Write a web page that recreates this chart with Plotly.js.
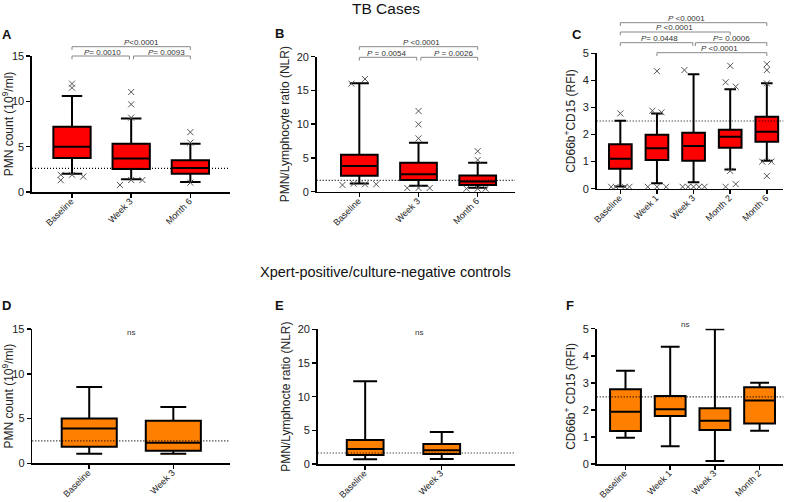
<!DOCTYPE html>
<html><head><meta charset="utf-8">
<script src="https://cdn.plot.ly/plotly-3.0.1.min.js"></script>
<style>html,body{margin:0;padding:0;background:#fff}#chart{width:795px;height:502px}</style>
</head><body><div id="chart"></div>
<script>
// ---------- DATA ----------
const catsA = ['Baseline','Week 3','Month 6'];
const catsB = ['Baseline','Week 3','Month 6'];
const catsC = ['Baseline','Week 1','Week 3','Month 2','Month 6'];
const catsD = ['Baseline','Week 3'];
const catsE = ['Baseline','Week 3'];
const catsF = ['Baseline','Week 1','Week 3','Month 2'];

// Panel A: PMN count, TB cases
const A_q1  = [3.75, 2.55, 2.0];
const A_med = [5.0, 3.7, 2.65];
const A_q3  = [7.2, 5.33, 3.5];
const A_lo  = [2.0, 1.4, 1.1];
const A_hi  = [10.6, 8.1, 5.33];
const A_outCat  = [0,0,0,0,0,0, 1,1,1,1,1,1, 2,2,2];
const A_outVal  = [11.95,11.5,1.9,1.3,1.9,1.7, 11.03,9.67,8.2,0.77,1.32,1.32, 6.6,5.44,1.03];
const A_outSlot = [0,0,-1,-1,0,1, 0,0,0,-1,0,1, 0,0,0];
const A_thr = 2.6;

// Panel B: NLR, TB cases
const B_q1  = [2.37, 1.73, 1.0];
const B_med = [3.8, 2.6, 1.5];
const B_q3  = [5.48, 4.3, 2.4];
const B_lo  = [1.23, 0.9, 0.6];
const B_hi  = [16.05, 7.26, 4.3];
const B_outCat  = [0,0,0,0,0,0, 1,1,1,1,1,1, 2,2,2,2,2];
const B_outVal  = [16.7,16.0,0.99,1.2,1.1,1.1, 11.95,9.98,7.9,0.55,0.55,0.55, 6.0,4.7,0.45,0.45,0.45];
const B_outSlot = [0.5,-0.7,-1.5,-0.5,0.5,1.5, 0,0,0,-1,0,1, 0,0,-1,0,0.7];
const B_thr = 1.68;

// Panel C: CD66b+CD15 RFI, TB cases
const C_q1  = [0.74, 1.06, 1.03, 1.51, 1.73];
const C_med = [1.11, 1.49, 1.58, 1.92, 2.1];
const C_q3  = [1.64, 1.99, 2.07, 2.18, 2.66];
const C_lo  = [0.08, 0.2, 0.24, 0.71, 1.03];
const C_hi  = [2.51, 2.78, 4.23, 3.67, 3.89];
const C_outCat  = [0,0,0,0,0, 1,1,1,1,1,1, 2,2,2,2,2,2, 3,3,3,3,3,3, 4,4,4,4,4,4];
const C_outVal  = [2.78,0.07,0.07,0.07,0.07, 4.34,2.88,2.82,0.07,0.07,0.07, 4.38,0.07,0.07,0.07,0.07,0.07,
                   4.54,3.93,3.77,0.66,0.07,0.17, 4.6,4.38,3.89,1.0,1.0,0.47];
const C_outSlot = [0,-2,-1,1,2, 0,-1,1,-2,0,2, -2,-2.4,-1.2,0,1.2,2.4, 0,-1,1.2,0,-1,1.2, 0,0,0,-1,1,0];
const C_thr = 2.5;

// Panel D: PMN count, controls
const D_q1  = [1.86, 1.41];
const D_med = [3.9, 2.3];
const D_q3  = [5.0, 4.76];
const D_lo  = [1.08, 1.08];
const D_hi  = [8.52, 6.29];
const D_thr = 2.5;

// Panel E: NLR, controls
const E_q1  = [1.34, 1.49];
const E_med = [2.23, 2.03];
const E_q3  = [3.56, 2.97];
const E_lo  = [0.69, 0.74];
const E_hi  = [12.28, 4.75];
const E_thr = 1.63;

// Panel F: CD66b+ CD15 RFI, controls
const F_q1  = [1.22, 1.77, 1.26, 1.5];
const F_med = [1.93, 2.02, 1.6, 2.35];
const F_q3  = [2.76, 2.51, 2.06, 2.84];
const F_lo  = [0.97, 0.66, 0.11, 1.23];
const F_hi  = [3.45, 4.33, 4.98, 3.0];
const F_thr = 2.48;

// ---------- LAYOUT HELPERS ----------
const W = 795, H = 502;
const FONT = 'Liberation Sans, Arial, sans-serif';
const RED = '#ff0000', ORANGE = '#ff8000';
const py = p => 1 - p / H;

const panels = [
  {id:'', cats:catsA, q1:A_q1, med:A_med, q3:A_q3, lo:A_lo, hi:A_hi, oc:A_outCat, ov:A_outVal, os:A_outSlot, jit:0.19, thr:A_thr,
   fill:RED, xpx:[32,230], ypx:[56,192], xr:[-0.676,2.67], yr:[0,15], dt:5, bw:0.63, ww:0.55, title:'PMN count (10<sup>9</sup>/ml)'},
  {id:'2', cats:catsB, q1:B_q1, med:B_med, q3:B_q3, lo:B_lo, hi:B_hi, oc:B_outCat, ov:B_outVal, os:B_outSlot, jit:0.19, thr:B_thr,
   fill:RED, xpx:[316.7,515], ypx:[56.7,191.7], xr:[-0.72,2.63], yr:[0,20], dt:5, bw:0.62, ww:0.52, title:'PMN/Lymphocyte ratio (NLR)'},
  {id:'3', cats:catsC, q1:C_q1, med:C_med, q3:C_q3, lo:C_lo, hi:C_hi, oc:C_outCat, ov:C_outVal, os:C_outSlot, jit:0.125, thr:C_thr,
   fill:RED, xpx:[596.7,783.3], ypx:[53.3,188.7], xr:[-0.645,4.45], yr:[0,5], dt:1, bw:0.62, ww:0.51, title:'CD66b<sup>+</sup>CD15 (RFI)'},
  {id:'4', cats:catsD, q1:D_q1, med:D_med, q3:D_q3, lo:D_lo, hi:D_hi, thr:D_thr,
   fill:ORANGE, xpx:[32.3,230], ypx:[329,463.3], xr:[-0.677,1.674], yr:[0,15], dt:5, bw:0.655, ww:0.47, title:'PMN count (10<sup>9</sup>/ml)'},
  {id:'5', cats:catsE, q1:E_q1, med:E_med, q3:E_q3, lo:E_lo, hi:E_hi, thr:E_thr,
   fill:ORANGE, xpx:[317.7,515], ypx:[329.3,464], xr:[-0.62,1.957], yr:[0,20], dt:5, bw:0.48, ww:0.65, title:'PMN/Lymphocte ratio (NLR)'},
  {id:'6', cats:catsF, q1:F_q1, med:F_med, q3:F_q3, lo:F_lo, hi:F_hi, thr:F_thr,
   fill:ORANGE, xpx:[596.7,783.3], ypx:[328.7,464], xr:[-0.644,3.53], yr:[0,5], dt:1, bw:0.69, ww:0.61, title:'CD66b<sup>+</sup> CD15 (RFI)'}
];

const data = [];
const layout = {
  width: W, height: H, margin:{l:0,r:0,t:0,b:0}, paper_bgcolor:'#fff', plot_bgcolor:'rgba(0,0,0,0)',
  showlegend:false, font:{family:FONT, color:'#222'}, shapes:[], annotations:[]
};

panels.forEach(p => {
  const xa = 'x' + p.id, ya = 'y' + p.id;
  const idx = p.cats.map((c,i) => i);
  data.push({
    type:'box', x: idx, q1:p.q1, median:p.med, q3:p.q3, lowerfence:p.lo, upperfence:p.hi,
    width:p.bw, whiskerwidth:p.ww, fillcolor:p.fill, line:{color:'#000', width:2},
    boxpoints:false, hoverinfo:'skip', xaxis:xa, yaxis:ya
  });
  if (p.oc) {
    data.push({
      type:'scatter', mode:'markers', xaxis:xa, yaxis:ya, hoverinfo:'skip', cliponaxis:false,
      x: p.oc.map((c,i) => c + p.os[i]*p.jit), y: p.ov,
      marker:{symbol:'x-thin-open', size:6, color:'#555', line:{width:1, color:'#555'}}
    });
  }
  layout['xaxis'+p.id] = {
    domain:[p.xpx[0]/W, p.xpx[1]/W], anchor:ya, range:p.xr, showgrid:false, zeroline:false,
    showline:true, linecolor:'#000', linewidth:1.6, ticks:'outside', ticklen:4, tickwidth:1.5, tickcolor:'#000',
    tickvals: idx, ticktext: p.cats, tickangle:-45, ticklabelstandoff:-5, ticklabelshift:-1,
    tickfont:{size:9, color:'#222', family:FONT}, fixedrange:true
  };
  layout['yaxis'+p.id] = {
    domain:[py(p.ypx[1]), py(p.ypx[0])], anchor:xa, range:p.yr, dtick:p.dt, showgrid:false, zeroline:false,
    showline:true, linecolor:'#000', linewidth:1.6, ticks:'outside', ticklen:4, tickwidth:1.5, tickcolor:'#000',
    tickfont:{size:11, color:'#222', family:FONT}, fixedrange:true,
    title:{text:p.title, font:{size:12, color:'#222', family:FONT}, standoff:4}
  };
  layout.shapes.push({type:'line', xref:xa+' domain', yref:ya, x0:0, x1:1, y0:p.thr, y1:p.thr,
    line:{color:'#000', width:1.2, dash:'1px,2px'}});
});

// significance brackets
function bracket(xa, c0, c1, ypx) {
  const y = py(ypx), yt = py(ypx + 3.3);
  layout.shapes.push({type:'path', xref:xa, yref:'paper',
    path:`M ${c0},${yt} L ${c0},${y} L ${c1},${y} L ${c1},${yt}`, line:{color:'#888', width:1}});
}
function label(xa, c, ypx, txt, size) {
  layout.annotations.push({xref:xa, yref:'paper', x:c, y:py(ypx), text:txt, showarrow:false,
    xanchor:'center', yanchor:'middle', font:{size:size||8, color:'#333', family:FONT}});
}
const P = '<i>P</i>';
// A
bracket('x', 0, 2, 46.7); bracket('x', 0, 0.97, 56); bracket('x', 1.04, 2, 56);
label('x', 1.18, 42.6, P+'&lt;0.0001'); label('x', 0.52, 52, P+'= 0.0010'); label('x', 1.6, 52, P+'= 0.0093');
// B
bracket('x2', 0, 2, 46.7); bracket('x2', 0, 0.97, 57.3); bracket('x2', 1.04, 2, 57.3);
label('x2', 1.05, 42.6, P+' &lt;0.0001'); label('x2', 0.46, 53, P+' = 0.0054'); label('x2', 1.59, 53, P+' = 0.0026');
// C
bracket('x3', 0, 4, 22.7); bracket('x3', 0, 3, 32); bracket('x3', 0, 1.98, 42.7); bracket('x3', 2.05, 4, 42.7); bracket('x3', 1, 4, 52.7);
label('x3', 1.81, 18.5, P+' &lt;0.0001'); label('x3', 1.49, 27.8, P+' &lt;0.0001');
label('x3', 1.08, 38.6, P+'= 0.0448'); label('x3', 3.04, 38.6, P+'= 0.0006'); label('x3', 2.72, 48.6, P+' &lt;0.0001');
// ns
label('x4', 0.5, 332.5, 'ns', 8); label('x5', 0.7, 332.5, 'ns', 8); label('x6', 1.33, 324.5, 'ns', 8);

// panel letters & titles
function ptext(x, y, txt, size, bold) {
  layout.annotations.push({xref:'paper', yref:'paper', x:x/W, y:py(y), text: bold ? '<b>'+txt+'</b>' : txt,
    showarrow:false, xanchor:'center', yanchor:'middle', font:{size:size, color:'#111', family:FONT}});
}
ptext(7, 35, 'A', 13, true); ptext(279, 34, 'B', 13, true); ptext(577, 35, 'C', 13, true);
ptext(6, 305, 'D', 13, true); ptext(279, 305, 'E', 13, true); ptext(570, 305, 'F', 13, true);
ptext(386, 9, 'TB Cases', 15.5, false);
ptext(385, 272, 'Xpert-positive/culture-negative controls', 14.5, false);

Plotly.newPlot('chart', data, layout, {staticPlot:true, displayModeBar:false});
</script></body></html>
